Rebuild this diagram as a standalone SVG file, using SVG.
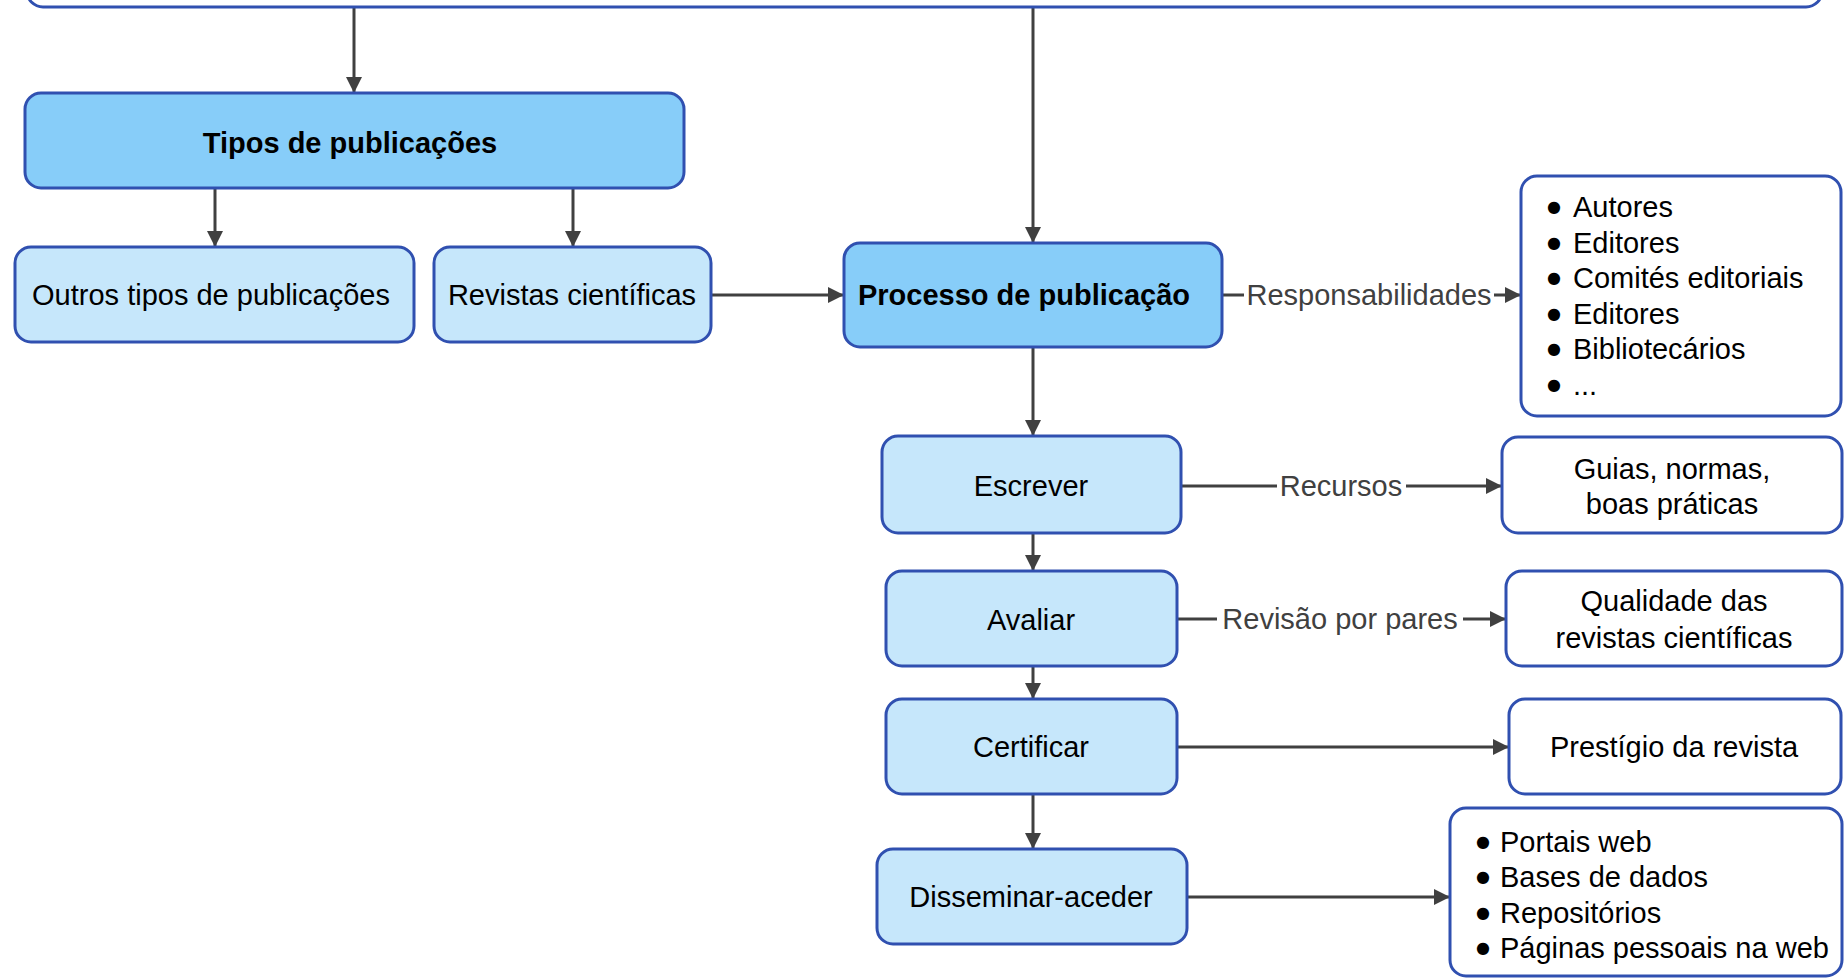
<svg xmlns="http://www.w3.org/2000/svg" width="1848" height="979" viewBox="0 0 1848 979">
<style>
.node rect{stroke:#3050B0;stroke-width:3}
.strong{fill:#87CDF9}
.light{fill:#C6E7FB}
.plain{fill:#FFFFFF}
text{font-family:"Liberation Sans",Arial,sans-serif;font-size:29px;fill:#000}
.bul{font-family:"DejaVu Sans",sans-serif;font-size:16px}
.b{font-weight:bold}
.c{text-anchor:middle}
.conn line{stroke:#404040;stroke-width:3;fill:none}
.lbl{fill:#404040}
.lblbg{fill:#FFFFFF;stroke:none}
</style>
<defs>
<marker id="arr" markerUnits="userSpaceOnUse" markerWidth="16" markerHeight="16" refX="16" refY="8" orient="auto">
<path d="M0,0 L16,8 L0,16 Z" fill="#404040"/>
</marker>
</defs>
<rect width="1848" height="979" fill="#FFFFFF"/>

<g id="connectors" class="conn">
<line x1="354" y1="8" x2="354" y2="93" marker-end="url(#arr)"/>
<line x1="1033" y1="8" x2="1033" y2="243" marker-end="url(#arr)"/>
<line x1="215" y1="188" x2="215" y2="247" marker-end="url(#arr)"/>
<line x1="573" y1="188" x2="573" y2="247" marker-end="url(#arr)"/>
<line x1="711" y1="295" x2="844" y2="295" marker-end="url(#arr)"/>
<line x1="1222" y1="295" x2="1521" y2="295" marker-end="url(#arr)"/>
<line x1="1033" y1="347" x2="1033" y2="436" marker-end="url(#arr)"/>
<line x1="1033" y1="533" x2="1033" y2="571" marker-end="url(#arr)"/>
<line x1="1033" y1="666" x2="1033" y2="699" marker-end="url(#arr)"/>
<line x1="1033" y1="794" x2="1033" y2="849" marker-end="url(#arr)"/>
<line x1="1181" y1="486" x2="1502" y2="486" marker-end="url(#arr)"/>
<line x1="1177" y1="619" x2="1506" y2="619" marker-end="url(#arr)"/>
<line x1="1177" y1="747" x2="1509" y2="747" marker-end="url(#arr)"/>
<line x1="1187" y1="897" x2="1450" y2="897" marker-end="url(#arr)"/>
<rect class="lblbg" x="1244" y="280" width="250" height="30"/>
<text class="lbl c" x="1369" y="305">Responsabilidades</text>
<rect class="lblbg" x="1277" y="471" width="129" height="30"/>
<text class="lbl c" x="1341" y="496">Recursos</text>
<rect class="lblbg" x="1217" y="604" width="246" height="30"/>
<text class="lbl c" x="1340" y="629">Revisão por pares</text>
</g>

<g id="top" class="node"><rect class="plain" x="27" y="-60" width="1795" height="67" rx="16"/></g>

<g id="tipos" class="node"><rect class="strong" x="25" y="93" width="659" height="95" rx="16"/>
<text class="b c" x="350" y="153">Tipos de publicações</text></g>

<g id="outros" class="node"><rect class="light" x="15" y="247" width="399" height="95" rx="16"/>
<text class="c" x="211" y="305">Outros tipos de publicações</text></g>

<g id="revistas" class="node"><rect class="light" x="434" y="247" width="277" height="95" rx="16"/>
<text class="c" x="572" y="305">Revistas científicas</text></g>

<g id="processo" class="node"><rect class="strong" x="844" y="243" width="378" height="104" rx="16"/>
<text class="b c" x="1024" y="305">Processo de publicação</text></g>

<g id="responsabilidades" class="node"><rect class="plain" x="1521" y="176" width="320" height="240" rx="16"/>
<text x="1547" y="212"><tspan class="bul">●</tspan><tspan x="1573" y="217">Autores</tspan></text>
<text x="1547" y="248"><tspan class="bul">●</tspan><tspan x="1573" y="253">Editores</tspan></text>
<text x="1547" y="283"><tspan class="bul">●</tspan><tspan x="1573" y="288">Comités editoriais</tspan></text>
<text x="1547" y="319"><tspan class="bul">●</tspan><tspan x="1573" y="324">Editores</tspan></text>
<text x="1547" y="354"><tspan class="bul">●</tspan><tspan x="1573" y="359">Bibliotecários</tspan></text>
<text x="1547" y="390"><tspan class="bul">●</tspan><tspan x="1573" y="395">...</tspan></text>
</g>

<g id="escrever" class="node"><rect class="light" x="882" y="436" width="299" height="97" rx="16"/>
<text class="c" x="1031" y="496">Escrever</text></g>

<g id="guias" class="node"><rect class="plain" x="1502" y="437" width="340" height="96" rx="16"/>
<text class="c" x="1672" y="479">Guias, normas,</text>
<text class="c" x="1672" y="514">boas práticas</text></g>

<g id="avaliar" class="node"><rect class="light" x="886" y="571" width="291" height="95" rx="16"/>
<text class="c" x="1031" y="630">Avaliar</text></g>

<g id="qualidade" class="node"><rect class="plain" x="1506" y="571" width="336" height="95" rx="16"/>
<text class="c" x="1674" y="611">Qualidade das</text>
<text class="c" x="1674" y="648">revistas científicas</text></g>

<g id="certificar" class="node"><rect class="light" x="886" y="699" width="291" height="95" rx="16"/>
<text class="c" x="1031" y="757">Certificar</text></g>

<g id="prestigio" class="node"><rect class="plain" x="1509" y="699" width="332" height="95" rx="16"/>
<text class="c" x="1674" y="757">Prestígio da revista</text></g>

<g id="disseminar" class="node"><rect class="light" x="877" y="849" width="310" height="95" rx="16"/>
<text class="c" x="1031" y="907">Disseminar-aceder</text></g>

<g id="portais" class="node"><rect class="plain" x="1450" y="808" width="392" height="168" rx="16"/>
<text x="1476" y="847"><tspan class="bul">●</tspan><tspan x="1500" y="852">Portais web</tspan></text>
<text x="1476" y="882"><tspan class="bul">●</tspan><tspan x="1500" y="887">Bases de dados</tspan></text>
<text x="1476" y="918"><tspan class="bul">●</tspan><tspan x="1500" y="923">Repositórios</tspan></text>
<text x="1476" y="953"><tspan class="bul">●</tspan><tspan x="1500" y="958">Páginas pessoais na web</tspan></text>
</g>
</svg>
